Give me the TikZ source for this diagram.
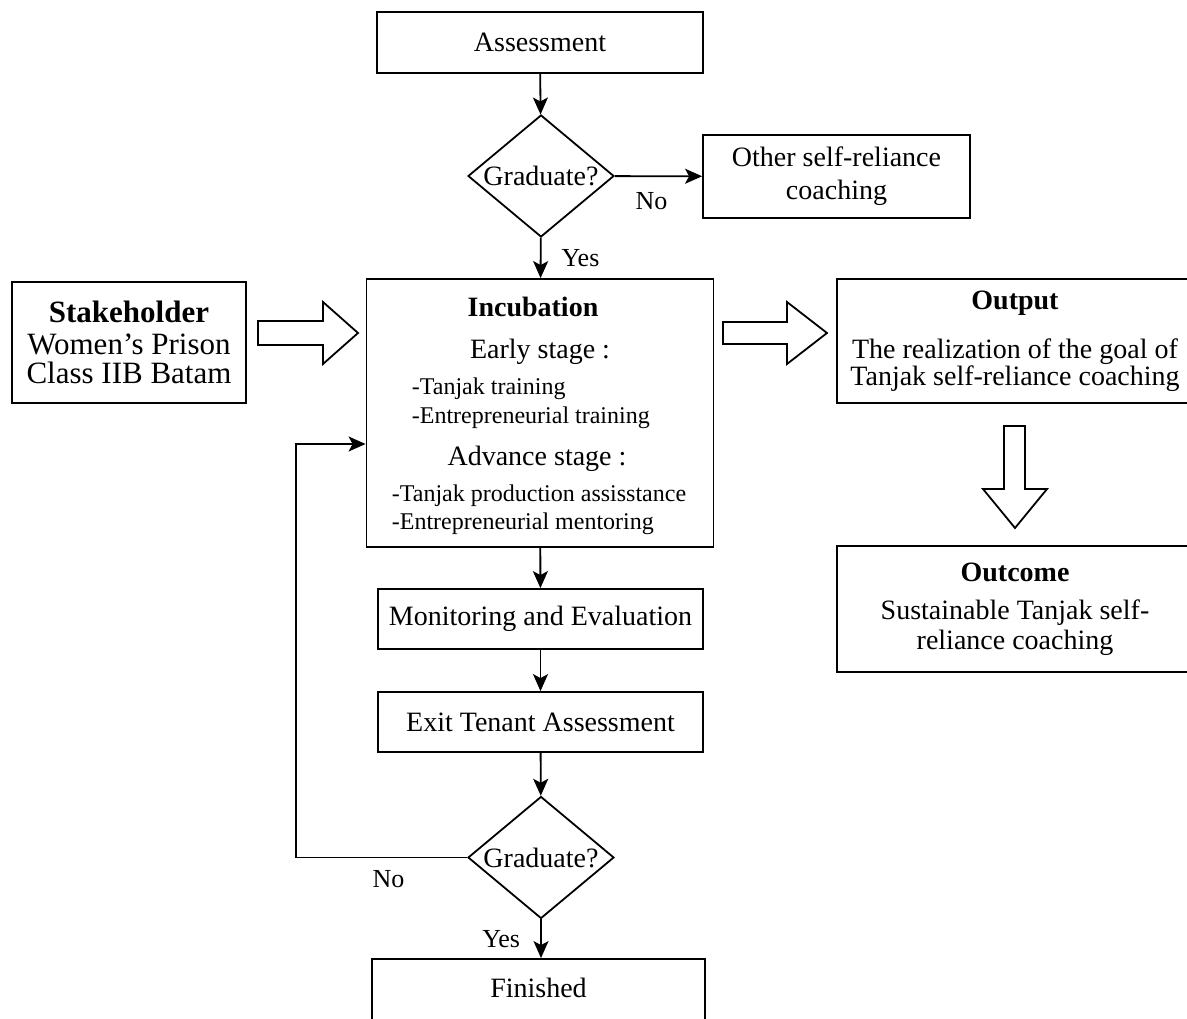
\documentclass[tikz,border=0pt]{standalone}
\usepackage{fontspec}
\setmainfont{Liberation Serif}
\usetikzlibrary{arrows.meta,shapes.geometric}

\begin{document}
\begin{tikzpicture}[x=1pt, y=-1pt, line width=1.8pt,
  box/.style={draw, rectangle, align=center, inner sep=0pt,
              font=\fontsize{28}{30}\selectfont},
  decision/.style={draw, diamond, aspect=1.2, inner sep=0pt,
                   minimum width=146pt, minimum height=122pt,
                   font=\fontsize{28}{30}\selectfont},
  flow/.style={-{Stealth[length=17pt,width=15pt,inset=4pt]}},
  hollow/.style={draw, fill=white, line join=miter},
  lbl/.style={inner sep=0pt, font=\fontsize{26}{28}\selectfont},
  txt/.style={inner sep=0pt, font=\fontsize{28}{30}\selectfont},
  small/.style={inner sep=0pt, anchor=west, font=\fontsize{24}{26}\selectfont}]

  \useasboundingbox (0,0) rectangle (1187,1019);

  % Main column
  \node[box, minimum width=326pt, minimum height=61pt] (assess) at (540,42.5) {Assessment};
  \node[decision] (grad1) at (541,176) {Graduate?};
  \node[box, minimum width=267pt, minimum height=83pt,
        font=\fontsize{28}{33}\selectfont] (other) at (836.5,176.5)
        {Other self-reliance\\coaching};
  \node[box, minimum width=347pt, minimum height=268pt] (incub) at (540,413) {};
  \node[box, minimum width=325pt, minimum height=60pt] (monitor) at (540.5,619)
        {Monitoring and Evaluation};
  \node[box, minimum width=325pt, minimum height=60pt] (exit) at (540.5,722)
        {Exit Tenant Assessment};
  \node[decision] (grad2) at (541,857.5) {Graduate?};
  \node[box, minimum width=333pt, minimum height=80pt] (finish) at (538.5,999)
        {\raisebox{22pt}{Finished}};

  % Contents of the incubation box
  \node[txt, font=\bfseries\fontsize{28}{30}\selectfont] (incubT) at (533,307) {Incubation};
  \node[txt] (early) at (540,352) {Early stage :};
  \node[small] (early1) at (411,389) {-Tanjak training};
  \node[small] (early2) at (411,418) {-Entrepreneurial training};
  \node[txt] (adv) at (537,459) {Advance stage :};
  \node[small] (adv1) at (391,496) {-Tanjak production assisstance};
  \node[small] (adv2) at (391,524) {-Entrepreneurial mentoring};

  % Side boxes
  \node[box, minimum width=234pt, minimum height=121pt,
        font=\fontsize{31}{29}\selectfont] (stake) at (129,342.5)
        {\textbf{Stakeholder}\\[3pt]Women's Prison\\Class IIB Batam};
  \node[box, minimum width=356pt, minimum height=124pt,
        font=\fontsize{28}{27}\selectfont] (output) at (1015,341)
        {\textbf{Output}\\[22pt]The realization of the goal of\\Tanjak self-reliance coaching};
  \node[box, minimum width=356pt, minimum height=126pt] (outcome) at (1015,609)
        {\textbf{Outcome}\\[8pt]Sustainable Tanjak self-\\reliance coaching};

  % Hollow block arrows
  \draw[hollow] (258,321) -- (323,321) -- (323,302) -- (358,333)
    -- (323,364) -- (323,345) -- (258,345) -- cycle;
  \draw[hollow] (723,322) -- (787,322) -- (787,302) -- (827,333)
    -- (787,364) -- (787,344) -- (723,344) -- cycle;
  \draw[hollow] (1004,426) -- (1025,426) -- (1025,489) -- (1047,489)
    -- (1015,528) -- (983,489) -- (1004,489) -- cycle;

  % Connectors
  \draw[flow] (assess) -- (grad1);
  \draw[flow] (grad1) -- node[lbl, below=15pt, pos=0.42] {No} (other);
  \draw[flow] (grad1) -- node[lbl, right=20pt] {Yes} (incub);
  \draw[flow] (incub) -- (monitor);
  \draw[flow] (monitor) -- (exit);
  \draw[flow] (exit) -- (grad2);
  \draw[flow] (grad2) -- node[lbl, left=20pt] {Yes} (finish.north -| grad2);

  \coordinate (loop) at (296,444);
  \draw[flow] (grad2.west) -| node[lbl, below=12pt, pos=0.23] {No} (loop)
    -- (loop -| incub.west);
\end{tikzpicture}
\end{document}
